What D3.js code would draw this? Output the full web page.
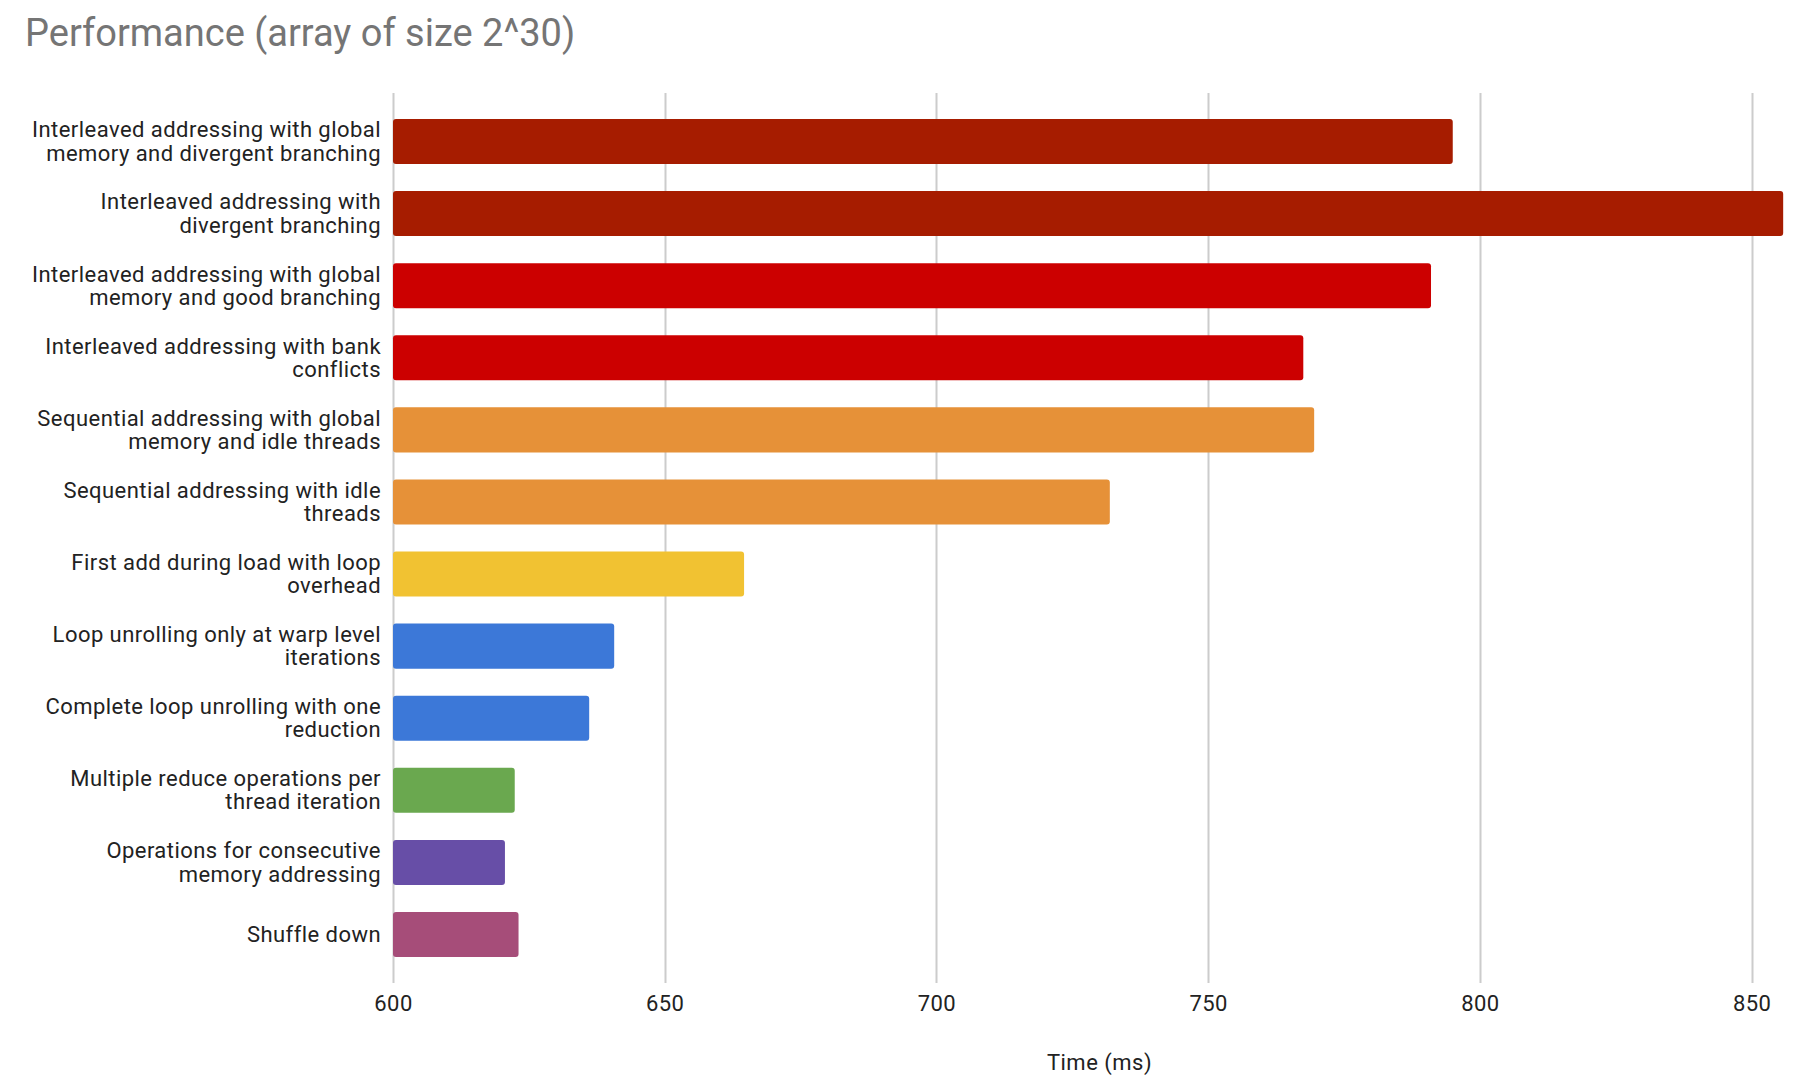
<!DOCTYPE html>
<html><head><meta charset="utf-8">
<script src="https://cdn.jsdelivr.net/npm/d3@7/dist/d3.min.js"></script>
<style>
html,body{margin:0;padding:0;background:#fff;}
svg{display:block;font-family:Roboto,"Noto Sans",sans-serif;}
</style></head>
<body>
<svg id="chart" width="1812" height="1089"></svg>
<script>
const categories = [
  ["Interleaved addressing with global", "memory and divergent branching"],
  ["Interleaved addressing with", "divergent branching"],
  ["Interleaved addressing with global", "memory and good branching"],
  ["Interleaved addressing with bank", "conflicts"],
  ["Sequential addressing with global", "memory and idle threads"],
  ["Sequential addressing with idle", "threads"],
  ["First add during load with loop", "overhead"],
  ["Loop unrolling only at warp level", "iterations"],
  ["Complete loop unrolling with one", "reduction"],
  ["Multiple reduce operations per", "thread iteration"],
  ["Operations for consecutive", "memory addressing"],
  ["Shuffle down"]
];
const values = [795, 855.8, 791, 767.5, 769.5, 731.9, 664.6, 640.7, 636.1, 622.4, 620.6, 623.1];
const colors = ["#a61c00","#a61c00","#cc0000","#cc0000","#e69138","#e69138","#f1c232","#3c78d8","#3c78d8","#6aa84f","#674ea7","#a64d79"];
const tickValues = [600, 650, 700, 750, 800, 850];
const title = "Performance (array of size 2^30)";
const xTitle = "Time (ms)";

(function(){
const svg = d3.select("#chart");
const pl = 393, pr = 1806, pt = 93, pb = 983;

const x = d3.scaleLinear().domain([600, 860]).range([pl, pr]);
const y = d3.scaleBand().domain(d3.range(categories.length)).range([pt, pb])
  .paddingInner(0.375).paddingOuter(0.36);

svg.append("text").attr("x", 25).attr("y", 46)
  .attr("font-size", 38).attr("fill", "#757575").text(title);

svg.append("g").selectAll("line").data(tickValues).join("line")
  .attr("x1", d => Math.round(x(d)) + 0.5).attr("x2", d => Math.round(x(d)) + 0.5)
  .attr("y1", pt).attr("y2", pb)
  .attr("stroke", "#cccccc").attr("stroke-width", 2);

svg.append("g").selectAll("rect").data(values).join("rect")
  .attr("x", x(600)).attr("y", (d, i) => y(i))
  .attr("width", d => x(d) - x(600)).attr("height", y.bandwidth())
  .attr("rx", 3).attr("ry", 3)
  .attr("fill", (d, i) => colors[i]);

const lh = 23.3;
const lab = svg.append("g").attr("font-size", 22).attr("letter-spacing", 0.45)
  .attr("fill", "#222222").attr("text-anchor", "end");
categories.forEach((lines, i) => {
  const cy = y(i) + y.bandwidth() / 2;
  const n = lines.length;
  const t = lab.append("text");
  lines.forEach((ln, j) => {
    t.append("tspan").attr("x", 381)
      .attr("y", cy - (n - 1) * lh / 2 + j * lh + 7.5)
      .text(ln);
  });
});

const axis = d3.axisBottom(x).tickValues(tickValues).tickSize(0).tickPadding(0);
const gx = svg.append("g").attr("transform", `translate(0,${pb})`).call(axis);
gx.select(".domain").remove();
gx.selectAll("text").attr("font-size", 22).attr("letter-spacing", 0.4).attr("fill", "#222222")
  .attr("font-family", "Roboto").attr("dy", null).attr("y", 28);

svg.append("text").attr("x", (pl + pr) / 2).attr("y", 1070)
  .attr("text-anchor", "middle").attr("font-size", 22).attr("letter-spacing", 0.5)
  .attr("fill", "#222222").text(xTitle);
})();
</script>
</body></html>
